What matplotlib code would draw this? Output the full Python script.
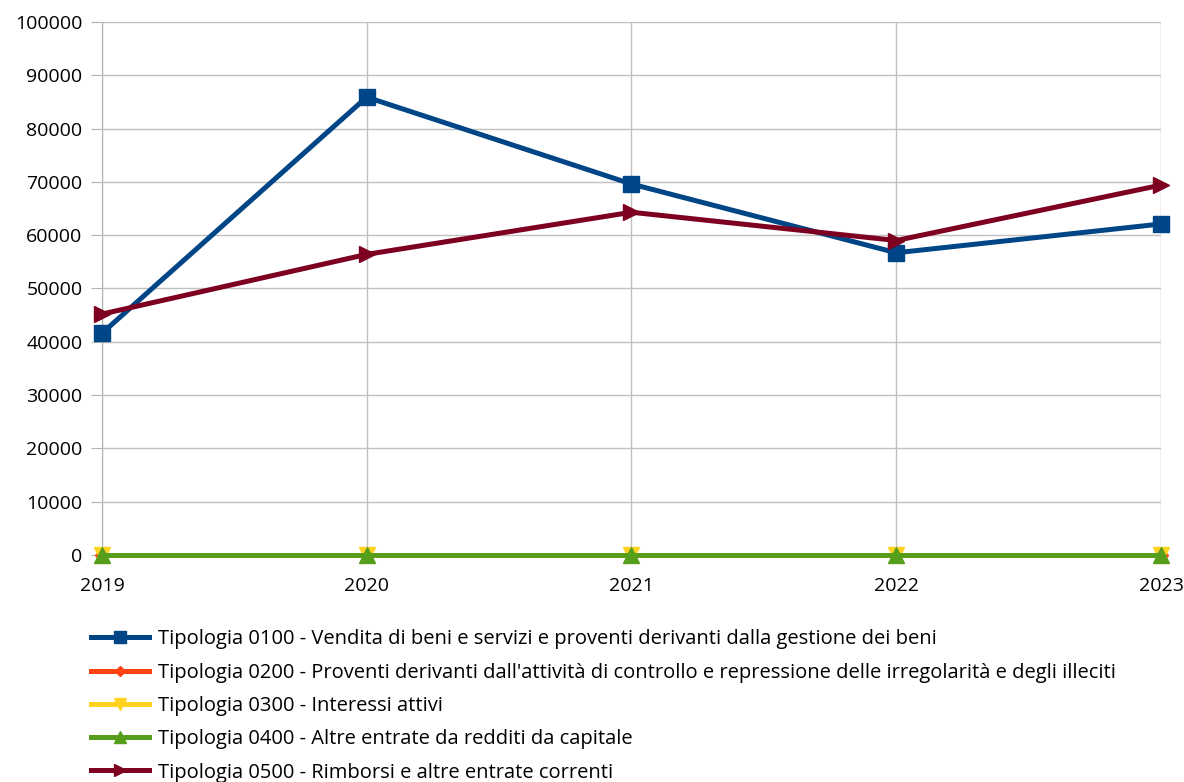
import matplotlib.pyplot as plt

anni = [2019, 2020, 2021, 2022, 2023]
t0100 = [41600, 85900, 69600, 56700, 62100]
t0200 = [0, 0, 0, 0, 0]
t0300 = [0, 0, 0, 0, 0]
t0400 = [0, 0, 0, 0, 0]
t0500 = [45200, 56400, 64300, 59000, 69400]

etichette = [
    "Tipologia 0100 - Vendita di beni e servizi e proventi derivanti dalla gestione dei beni",
    "Tipologia 0200 - Proventi derivanti dall'attività di controllo e repressione delle irregolarità e degli illeciti",
    "Tipologia 0300 - Interessi attivi",
    "Tipologia 0400 - Altre entrate da redditi da capitale",
    "Tipologia 0500 - Rimborsi e altre entrate correnti",
]

plt.rcParams['font.family'] = ['Open Sans', 'DejaVu Sans']

fig = plt.figure(figsize=(11.84, 7.82), dpi=100)
ax = fig.add_axes([0.0861, 0.2903, 0.8945, 0.6816])

series = [
    (t0100, '#004586', 's', 11),
    (t0200, '#ff420e', 'D', 7),
    (t0300, '#ffd320', 'v', 11),
    (t0400, '#579d1c', '^', 11),
    (t0500, '#7e0021', '>', 11),
]
handles = []
for (vals, col, mk, ms), lab in zip(series, etichette):
    h, = ax.plot(anni, vals, color=col, marker=mk, markersize=ms, linewidth=3.6,
                 label=lab, clip_on=False, zorder=3)
    handles.append(h)

ax.set_xlim(2019, 2023)
ax.set_ylim(0, 100000)
ax.set_xticks(anni)
ax.set_yticks(range(0, 100001, 10000))
ax.grid(True, color='#c0c0c0', linewidth=1)
ax.set_axisbelow(True)
for s in ['top', 'right', 'bottom']:
    ax.spines[s].set_visible(False)
ax.spines['left'].set_color('#b3b3b3')
ax.tick_params(axis='y', length=8, color='#b3b3b3', labelsize=14, pad=6)
ax.tick_params(axis='x', length=0, labelsize=14, pad=16)

fig.legend(handles=handles, loc='upper left', bbox_to_anchor=(0.07, 0.2055),
           frameon=False, fontsize=14.5, handlelength=2.9, handletextpad=0.45,
           labelspacing=0.66, borderaxespad=0, markerscale=0.8)

fig.savefig('out.png', dpi=100)
